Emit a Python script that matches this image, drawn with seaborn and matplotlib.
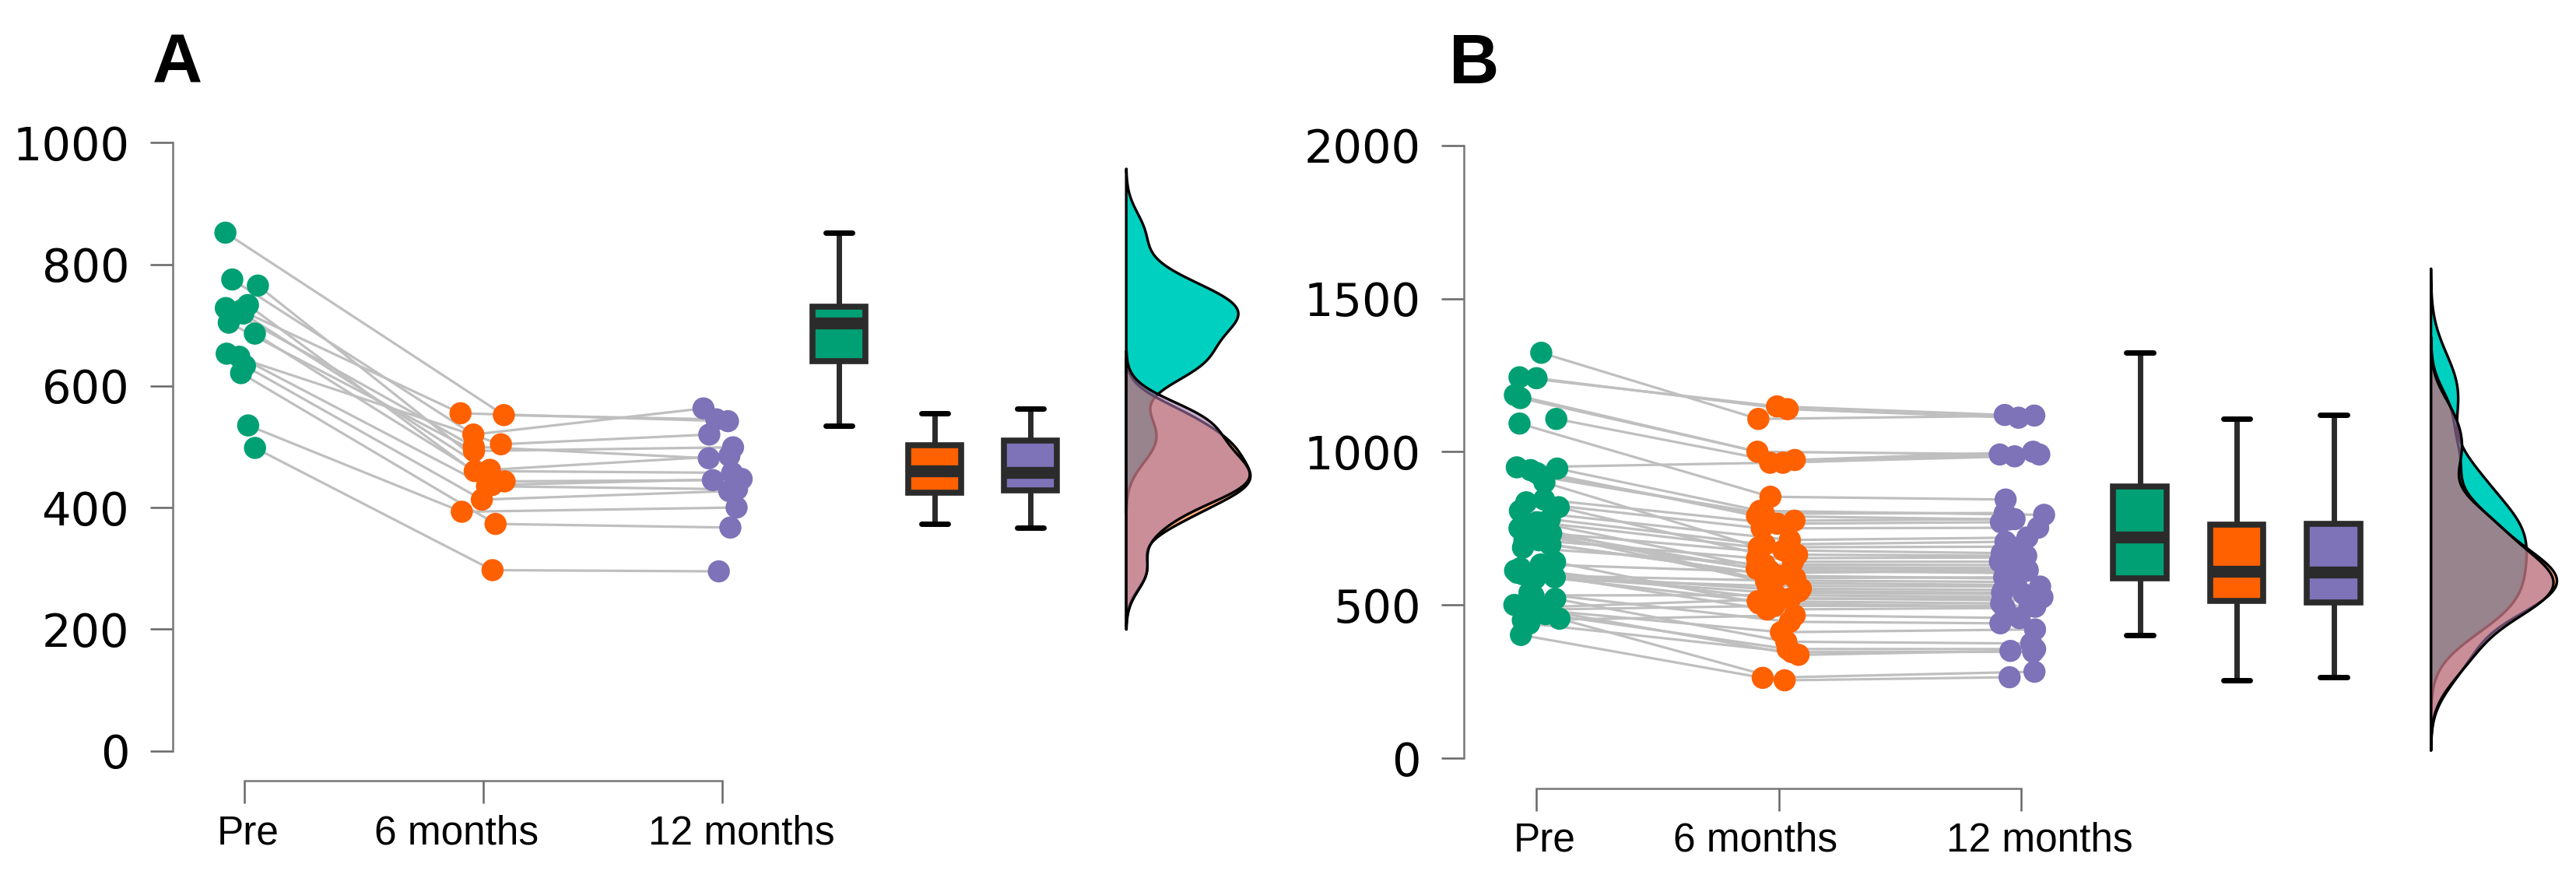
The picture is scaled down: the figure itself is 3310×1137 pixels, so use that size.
import numpy as np
import pandas as pd
import matplotlib
matplotlib.use('Agg')
import matplotlib.pyplot as plt
import seaborn as sns
from matplotlib.colors import to_rgba
from matplotlib.transforms import ScaledTranslation

sns.set_style('ticks')
plt.rcParams['font.family'] = ['DejaVu Sans']

# ---- data ----
times = ['Pre', '6 months', '12 months']

# panel A, 15 subjects
a_pre = [852, 775, 765, 733, 728, 724, 719, 704, 686, 653, 648, 633, 621, 535, 498]
a_6m = [552, 520, 462, 437, 500, 555, 443, 493, 460, 504, 435, 413, 373, 393, 297]
a_12m = [545, 563, 485, 447, 481, 542, 445, 499, 457, 520, 430, 427, 367, 400, 295]

# panel B, 50 subjects
b_pre = [1243, 1240, 1323, 1185, 1175, 1107, 949, 1092, 945, 918,
         940, 930, 844, 835, 807, 780, 900, 770, 733, 711,
         819, 687, 768, 740, 730, 632, 709, 696, 595, 750,
         586, 760, 605, 590, 531, 620, 493, 600, 640, 484,
         612, 450, 540, 485, 520, 470, 439, 500, 402, 455]
b_6m = [1148, 1139, 1107, 1000, 973, 964, 964, 853, 807, 798,
        790, 775, 765, 750, 712, 697, 688, 678, 664, 652,
        641, 632, 624, 618, 612, 605, 595, 588, 580, 572,
        562, 553, 545, 540, 532, 521, 521, 512, 505, 497,
        485, 466, 445, 411, 380, 356, 346, 337, 262, 254]
b_12m = [1120, 1111, 1118, 991, 1000, 991, 985, 844, 794, 800,
         779, 780, 770, 752, 720, 706, 690, 669, 660, 655,
         641, 630, 620, 615, 604, 612, 586, 590, 575, 565,
         560, 549, 540, 535, 525, 521, 515, 505, 494, 497,
         490, 457, 440, 420, 374, 356, 347, 350, 282, 264]

pt_colors = ['#00A074', '#FF6000', '#7E72B8']
dens_colors = [to_rgba('#00D0C0', 1.0), to_rgba('#FF6000', 0.5), to_rgba('#A878AC', 0.6)]


def make_long(pre, m6, m12, seed):
    rng = np.random.default_rng(seed)
    rows = []
    for k, vals in enumerate([pre, m6, m12]):
        jit = rng.uniform(-0.095, 0.095, len(vals))
        for s, v in enumerate(vals):
            rows.append({'subject': s, 'time': times[k], 'ti': k,
                         'xj': k + jit[s], 'bpos': 2.49 + 0.4 * k, 'value': v})
    return pd.DataFrame(rows)


def kde_nrd0(vals):
    v = np.asarray(vals, float)
    n = len(v)
    iqr = np.subtract(*np.percentile(v, [75, 25]))
    bw = 0.9 * min(v.std(ddof=1), iqr / 1.34) * n ** -0.2
    grid = np.linspace(v.min() - 3 * bw, v.max() + 3 * bw, 600)
    d = np.exp(-0.5 * ((grid[:, None] - v[None, :]) / bw) ** 2).sum(1) / (n * bw * np.sqrt(2 * np.pi))
    return grid, d


def draw_panel(ax, df, groups, ymax, yticks, lab_off):
    sns.lineplot(data=df, x='xj', y='value', units='subject', estimator=None,
                 sort=False, color='#BFBFBF', lw=2.3, ax=ax, zorder=1, legend=False)
    sns.scatterplot(data=df, x='xj', y='value', hue='time', palette=pt_colors,
                    hue_order=times, s=420, linewidth=0, ax=ax, zorder=3, legend=False)
    sns.boxplot(data=df, x='bpos', y='value', hue='time', hue_order=times,
                palette=pt_colors, saturation=1, native_scale=True, dodge=False, width=0.55,
                showfliers=False, linewidth=5.5, linecolor='#2B2B2B',
                medianprops={'linewidth': 11, 'color': '#2B2B2B'},
                whiskerprops={'linewidth': 5, 'color': '#2B2B2B'},
                capprops={'linewidth': 5, 'color': 'black'},
                ax=ax, legend=False)

    # flat half violins, common area scaling
    kdes = [kde_nrd0(g) for g in groups]
    scale = 0.52 / max(d.max() for _, d in kdes)
    spine = 3.69
    for (grid, d), fc in zip(kdes, dens_colors):
        ax.fill_betweenx(grid, spine, spine + d * scale, facecolor=fc,
                         edgecolor='black', linewidth=2.4, zorder=4, clip_on=False)

    ax.set_xlim(-0.3, 4.25)
    ax.set_ylim(0, ymax)
    ax.set_xticks([0, 1, 2], times)
    ax.set_yticks(yticks)
    ax.set_xlabel('')
    ax.set_ylabel('')
    sns.despine(ax=ax)
    ax.spines['bottom'].set_bounds(0, 2)
    ax.spines['bottom'].set_position(('outward', 28))
    for sp in ['left', 'bottom']:
        ax.spines[sp].set_color('#777777')
        ax.spines[sp].set_linewidth(1.8)
    ax.tick_params(axis='both', length=21, width=1.8, color='#666666', labelcolor='black')
    ax.tick_params(axis='y', labelsize=42.5, pad=19)
    ax.tick_params(axis='x', labelsize=37, pad=10)
    fig = ax.figure
    for lbl, dx in zip(ax.get_xticklabels(), lab_off):
        lbl.set_fontfamily(['Liberation Sans', 'DejaVu Sans'])
        lbl.set_transform(lbl.get_transform() + ScaledTranslation(dx / 100, 0, fig.dpi_scale_trans))


fig = plt.figure(figsize=(33.1, 11.37), dpi=100)
W, H = 3310, 1137
axA = fig.add_axes([221.7 / W, 1 - 964.5 / H, 4.55 * 307 / W, (964.5 - 183.3) / H])
axB = fig.add_axes([1881 / W, 1 - 974 / H, 4.54 * 312 / W, (974 - 186.7) / H])

dfA = make_long(a_pre, a_6m, a_12m, 3)
dfB = make_long(b_pre, b_6m, b_12m, 11)
draw_panel(axA, dfA, [a_pre, a_6m, a_12m], 1000, [0, 200, 400, 600, 800, 1000], [5, -34, 25])
draw_panel(axB, dfB, [b_pre, b_6m, b_12m], 2000, [0, 500, 1000, 1500, 2000], [10, -30, 24])

fig.text(196 / W, 1 - 107 / H, 'A', fontsize=64, fontweight='bold', color='black',
         family=['Liberation Sans', 'DejaVu Sans'], va='baseline', ha='left')
fig.text(1862 / W, 1 - 107 / H, 'B', fontsize=64, fontweight='bold', color='black',
         family=['Liberation Sans', 'DejaVu Sans'], va='baseline', ha='left')

fig.savefig('out.png', dpi=100)
